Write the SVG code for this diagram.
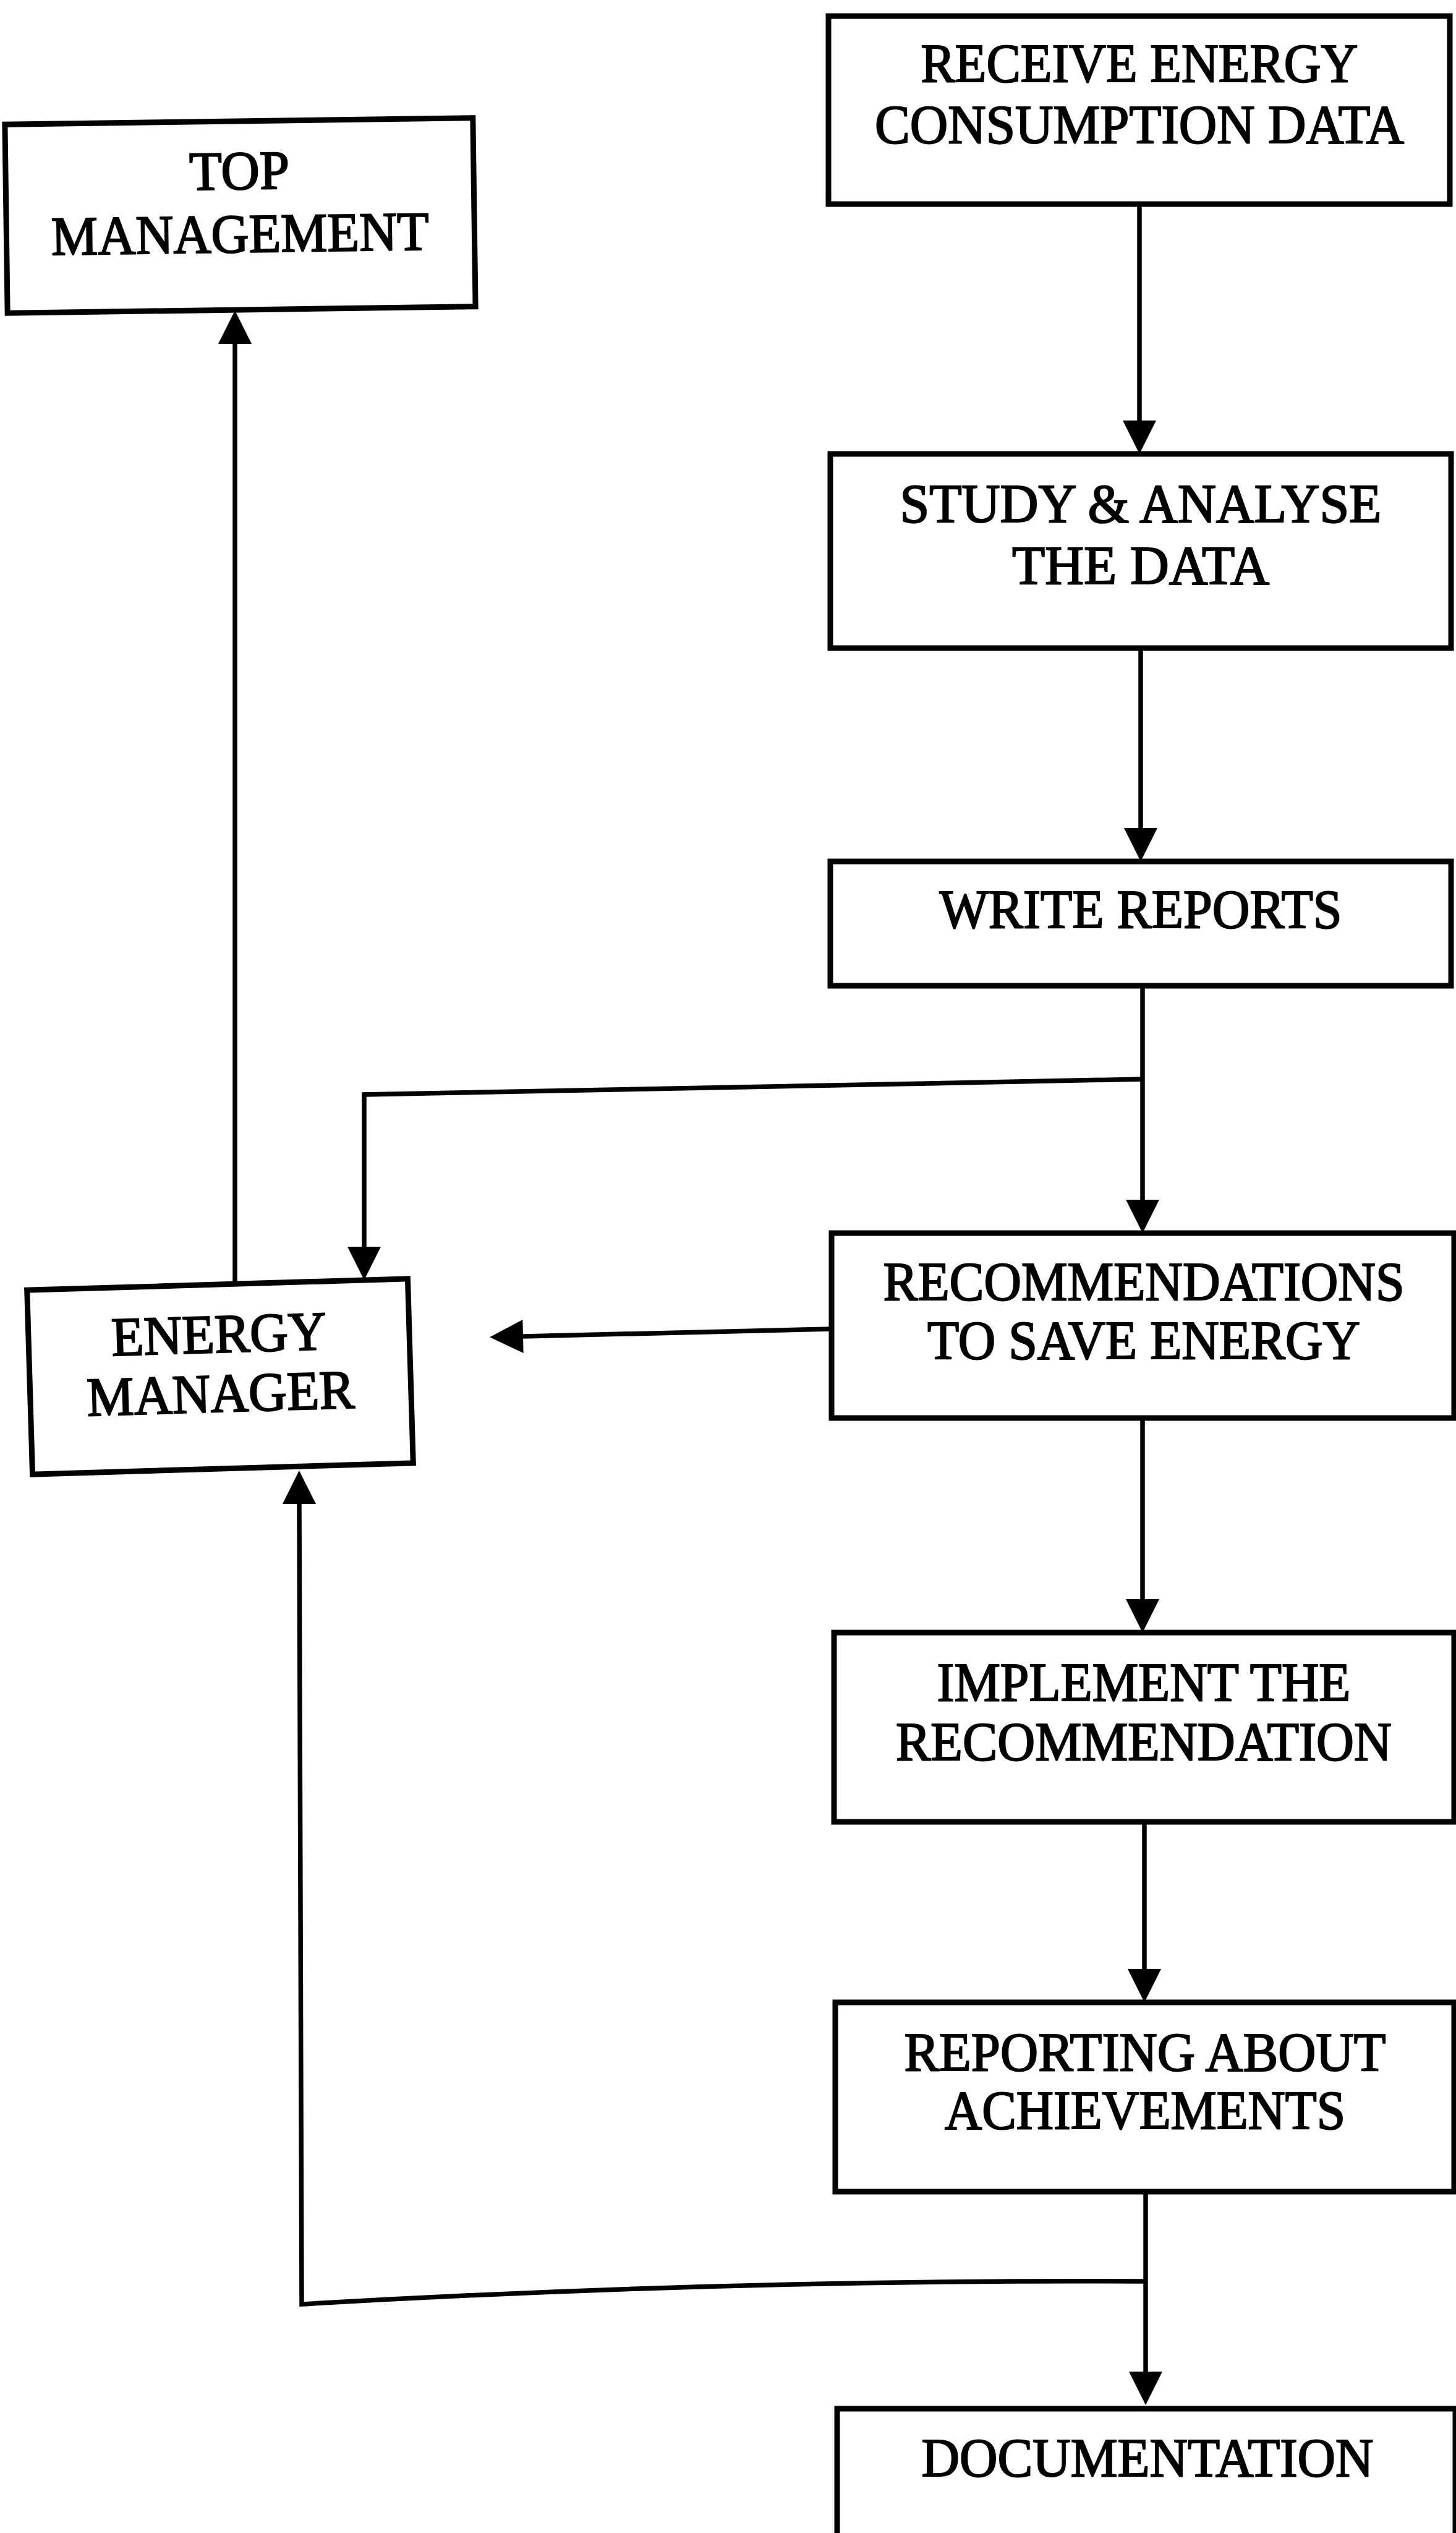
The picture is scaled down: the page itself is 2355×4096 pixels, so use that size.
<svg xmlns="http://www.w3.org/2000/svg" width="2355" height="4096" viewBox="0 0 2355 4096">
  <style>
    .box { fill: #fff; stroke: #000; stroke-width: 9; }
    .lbl { font-family: "Liberation Serif", "Times New Roman", serif; font-size: 89px; fill: #000; stroke: #000; stroke-width: 2.2; text-anchor: middle; }
    .wire { fill: none; stroke: #000; stroke-width: 7.5; }
  </style>
  <defs>
    <marker id="head" markerUnits="userSpaceOnUse" markerWidth="56" markerHeight="56" refX="0" refY="27" orient="auto" overflow="visible">
      <path d="M0,0 L54,27 L0,54 Z" fill="#000"/>
    </marker>
  </defs>
  <rect width="2355" height="4096" fill="#fff"/>

  <!-- flow connectors -->
  <g id="connectors">
    <path class="wire" d="M1843,330 L1843,680" marker-end="url(#head)"/>
    <path class="wire" d="M1845,1048 L1845,1339" marker-end="url(#head)"/>
    <path class="wire" d="M1848,1594 L1848,1940" marker-end="url(#head)"/>
    <path class="wire" d="M1848,1745 L589,1770 L589,2016" marker-end="url(#head)"/>
    <path class="wire" d="M1344,2149 L846,2161" marker-end="url(#head)"/>
    <path class="wire" d="M1848,2293 L1848,2586" marker-end="url(#head)"/>
    <path class="wire" d="M1851,2946 L1851,3184" marker-end="url(#head)"/>
    <path class="wire" d="M1853,3544 L1853,3835" marker-end="url(#head)"/>
    <path class="wire" d="M1853,3689 Q1170,3686 488,3726 L484,2432" marker-end="url(#head)"/>
    <path class="wire" d="M380,2076 L380,556" marker-end="url(#head)"/>
  </g>

  <g id="receive-data">
    <rect class="box" x="1340" y="26" width="1005" height="304"/>
    <text class="lbl" x="1843" y="132" textLength="707" lengthAdjust="spacingAndGlyphs">RECEIVE ENERGY</text>
    <text class="lbl" x="1843" y="231" textLength="856" lengthAdjust="spacingAndGlyphs">CONSUMPTION DATA</text>
  </g>

  <g id="top-management" transform="rotate(-0.8 388 349)">
    <rect class="box" x="10" y="196" width="757" height="305"/>
    <text class="lbl" x="388" y="306" textLength="162" lengthAdjust="spacingAndGlyphs">TOP</text>
    <text class="lbl" x="388" y="408" textLength="611" lengthAdjust="spacingAndGlyphs">MANAGEMENT</text>
  </g>

  <g id="study-analyse">
    <rect class="box" x="1343" y="734" width="1004" height="314"/>
    <text class="lbl" x="1845" y="844" textLength="779" lengthAdjust="spacingAndGlyphs">STUDY &amp; ANALYSE</text>
    <text class="lbl" x="1845" y="944" textLength="416" lengthAdjust="spacingAndGlyphs">THE DATA</text>
  </g>

  <g id="write-reports">
    <rect class="box" x="1343" y="1393" width="1004" height="201"/>
    <text class="lbl" x="1845" y="1500" textLength="651" lengthAdjust="spacingAndGlyphs">WRITE REPORTS</text>
  </g>

  <g id="recommendations">
    <rect class="box" x="1345" y="1994" width="1007" height="299"/>
    <text class="lbl" x="1850" y="2102" textLength="843" lengthAdjust="spacingAndGlyphs">RECOMMENDATIONS</text>
    <text class="lbl" x="1850" y="2197" textLength="700" lengthAdjust="spacingAndGlyphs">TO SAVE ENERGY</text>
  </g>

  <g id="energy-manager" transform="rotate(-1.7 356 2226)">
    <rect class="box" x="48" y="2077" width="616" height="298"/>
    <text class="lbl" x="356" y="2187" textLength="348" lengthAdjust="spacingAndGlyphs">ENERGY</text>
    <text class="lbl" x="356" y="2283" textLength="433" lengthAdjust="spacingAndGlyphs">MANAGER</text>
  </g>

  <g id="implement">
    <rect class="box" x="1349" y="2640" width="1003" height="306"/>
    <text class="lbl" x="1850" y="2750" textLength="669" lengthAdjust="spacingAndGlyphs">IMPLEMENT THE</text>
    <text class="lbl" x="1850" y="2846" textLength="802" lengthAdjust="spacingAndGlyphs">RECOMMENDATION</text>
  </g>

  <g id="reporting">
    <rect class="box" x="1351" y="3238" width="1001" height="306"/>
    <text class="lbl" x="1852" y="3348" textLength="779" lengthAdjust="spacingAndGlyphs">REPORTING ABOUT</text>
    <text class="lbl" x="1852" y="3442" textLength="648" lengthAdjust="spacingAndGlyphs">ACHIEVEMENTS</text>
  </g>

  <g id="documentation">
    <rect class="box" x="1354" y="3895" width="1000" height="300"/>
    <text class="lbl" x="1856" y="4004" textLength="731" lengthAdjust="spacingAndGlyphs">DOCUMENTATION</text>
  </g>
</svg>
